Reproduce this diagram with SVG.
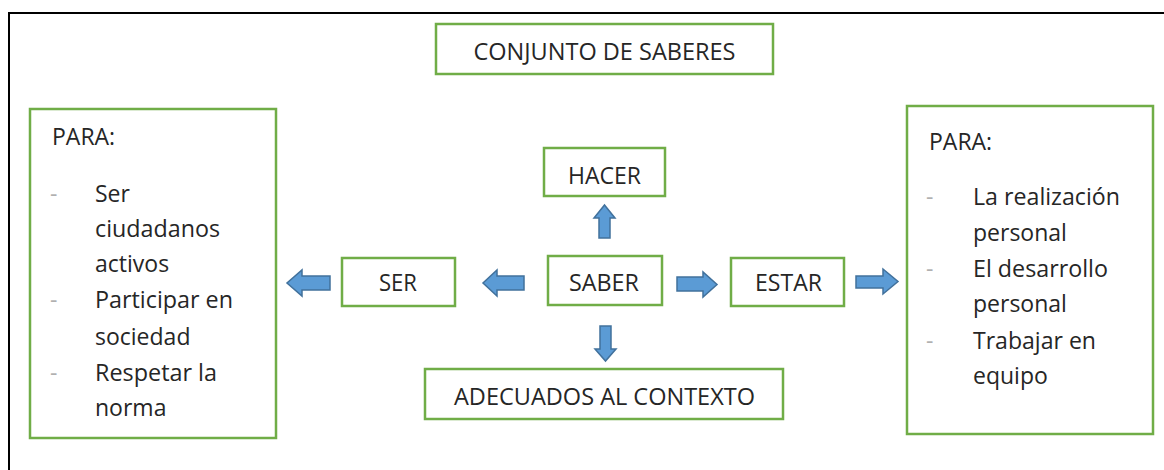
<svg xmlns="http://www.w3.org/2000/svg" width="1164" height="470" viewBox="0 0 1164 470">
<style>
.box{fill:#fff;stroke:#70ad47;stroke-width:2.5}
.t{font-family:"Open Sans","Liberation Sans",sans-serif;font-size:23px;fill:#262626}
.d{font-family:"Open Sans","Liberation Sans",sans-serif;font-size:23px;fill:#b0b0b0}
.arr{fill:#5b9bd5;stroke:#41719c;stroke-width:1.5;stroke-linejoin:miter}
</style>
<rect width="1164" height="470" fill="#fff"/>
<path d="M9,470 V13 H1164" fill="none" stroke="#000" stroke-width="2"/>
<g id="conjunto">
<rect class="box" x="436" y="24" width="337" height="50"/>
<text class="t" x="604.5" y="60" text-anchor="middle" textLength="262" lengthAdjust="spacingAndGlyphs">CONJUNTO DE SABERES</text>
</g>
<g id="hacer">
<rect class="box" x="544" y="148" width="121" height="48"/>
<text class="t" x="604.5" y="184" text-anchor="middle" textLength="73" lengthAdjust="spacingAndGlyphs">HACER</text>
</g>
<g id="saber">
<rect class="box" x="548" y="256" width="114" height="49"/>
<text class="t" x="604" y="291" text-anchor="middle" textLength="70" lengthAdjust="spacingAndGlyphs">SABER</text>
</g>
<g id="ser">
<rect class="box" x="342" y="258" width="113" height="48"/>
<text class="t" x="398" y="291" text-anchor="middle" textLength="38" lengthAdjust="spacingAndGlyphs">SER</text>
</g>
<g id="estar">
<rect class="box" x="731" y="258" width="113" height="48"/>
<text class="t" x="788.5" y="291" text-anchor="middle" textLength="67" lengthAdjust="spacingAndGlyphs">ESTAR</text>
</g>
<g id="adecuados">
<rect class="box" x="425" y="369" width="358" height="50"/>
<text class="t" x="604.5" y="405" text-anchor="middle" textLength="301" lengthAdjust="spacingAndGlyphs">ADECUADOS AL CONTEXTO</text>
</g>
<g id="para-izq">
<rect class="box" x="30" y="109" width="246" height="329"/>
<text class="t" x="52" y="145">PARA:</text>
<text class="d" x="50" y="202">-</text>
<text class="t" x="95" y="202">Ser</text>
<text class="t" x="95" y="237" textLength="125" lengthAdjust="spacingAndGlyphs">ciudadanos</text>
<text class="t" x="95" y="272">activos</text>
<text class="d" x="50" y="308">-</text>
<text class="t" x="95" y="308" textLength="138" lengthAdjust="spacingAndGlyphs">Participar en</text>
<text class="t" x="95" y="345">sociedad</text>
<text class="d" x="50" y="381">-</text>
<text class="t" x="95" y="381" textLength="122" lengthAdjust="spacingAndGlyphs">Respetar la</text>
<text class="t" x="95" y="416">norma</text>
</g>
<g id="para-der">
<rect class="box" x="907" y="106" width="246" height="328"/>
<text class="t" x="929" y="150">PARA:</text>
<text class="d" x="926" y="205">-</text>
<text class="t" x="973" y="205" textLength="147" lengthAdjust="spacingAndGlyphs">La realización</text>
<text class="t" x="973" y="241">personal</text>
<text class="d" x="926" y="277">-</text>
<text class="t" x="973" y="277" textLength="135" lengthAdjust="spacingAndGlyphs">El desarrollo</text>
<text class="t" x="973" y="312">personal</text>
<text class="d" x="926" y="349">-</text>
<text class="t" x="973" y="349" textLength="123" lengthAdjust="spacingAndGlyphs">Trabajar en</text>
<text class="t" x="973" y="384">equipo</text>
</g>
<g id="connectors">
<path class="arr" d="M599,238 V218 H594 L604.5,205 L615,218 H610 V238 Z"/>
<path class="arr" d="M600,326 V349 H595 L605.5,361 L616,349 H611 V326 Z"/>
<path class="arr" d="M524,276 H497 V270 L483,283 L497,296 V290 H524 Z"/>
<path class="arr" d="M330,276 H302 V270 L287,283 L302,296 V290 H330 Z"/>
<path class="arr" d="M677,277 H703 V272 L717,284.5 L703,297 V291 H677 Z"/>
<path class="arr" d="M856,276 H883 V269 L898,281.5 L883,294 V288 H856 Z"/>
</g>
</svg>
